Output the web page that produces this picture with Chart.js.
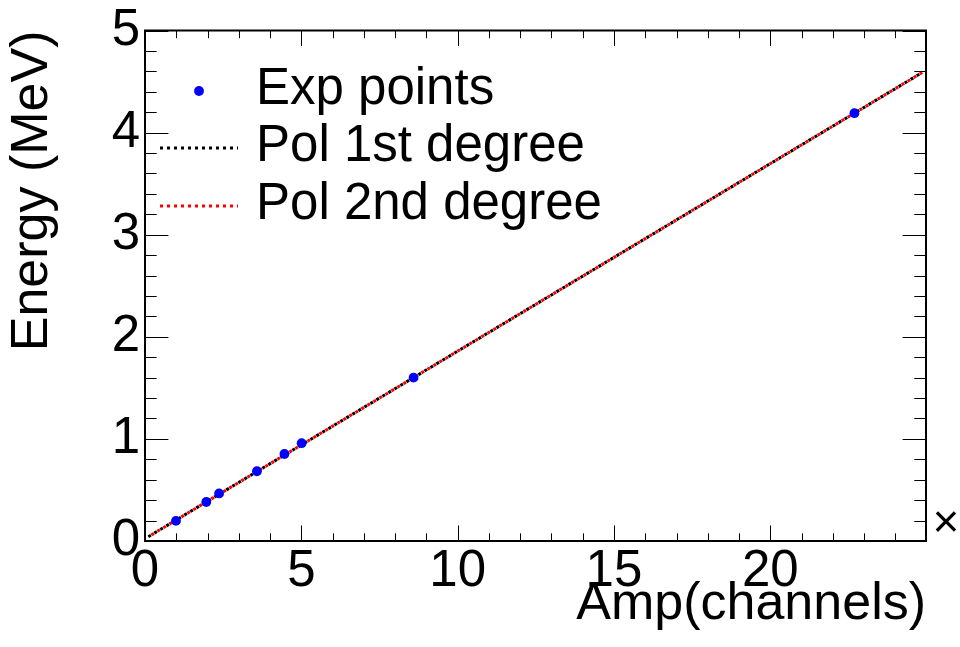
<!DOCTYPE html>
<html><head><meta charset="utf-8">
<script src="https://cdn.jsdelivr.net/npm/chart.js@4"></script>
<style>html,body{margin:0;padding:0;background:#fff;} canvas{display:block;}</style>
</head><body>
<canvas id="c" width="960" height="647" style="width:960px;height:647px"></canvas>
<script>
// ---- data ----
const expAmp     = [0.99, 1.96, 2.37, 3.58, 4.46, 5.01, 8.59, 22.69];
const expEnergy  = [0.197, 0.382, 0.466, 0.683, 0.852, 0.958, 1.60, 4.19];
const pol1Amp    = [0.106, 24.86];
const pol1Energy = [0.042, 4.589];
const pol2Amp    = [0.106, 24.86];
const pol2Energy = [0.042, 4.589];
const xTickValues = [0, 5, 10, 15, 20];
const yTickValues = [0, 1, 2, 3, 4, 5];
const seriesLabels = ['Exp points', 'Pol 1st degree', 'Pol 2nd degree'];
const xTitle = 'Amp(channels)';
const yTitle = 'Energy (MeV)';
const xMultiplier = '\u00d7';

const FONT = "'Liberation Sans', Arial, Helvetica, sans-serif";
const toXY = (xs, ys) => xs.map((x, i) => ({x: x, y: ys[i]}));

const frameTicks = {
  id: 'frameTicks',
  afterDatasetsDraw(chart) {
    const {ctx, chartArea: {left, right, top, bottom}, scales: {x, y}} = chart;
    ctx.save();
    ctx.strokeStyle = '#000';
    ctx.lineWidth = 1;
    ctx.beginPath();
    const xMajor = xTickValues[1] - xTickValues[0];
    const xMinor = xMajor / 5;
    for (let i = 0; i * xMinor <= x.max + 1e-9; i++) {
      const v = i * xMinor;
      const px = Math.round(x.getPixelForValue(v)) + 0.5;
      const len = (i % 5 === 0) ? 15.5 : 7.7;
      ctx.moveTo(px, bottom); ctx.lineTo(px, bottom - len);
      ctx.moveTo(px, top); ctx.lineTo(px, top + len);
    }
    const yMajor = yTickValues[1] - yTickValues[0];
    const yMinor = yMajor / 5;
    for (let i = 0; i * yMinor <= y.max + 1e-9; i++) {
      const v = i * yMinor;
      const py = Math.round(y.getPixelForValue(v)) + 0.5;
      const len = (i % 5 === 0) ? 23.4 : 11.7;
      ctx.moveTo(left, py); ctx.lineTo(left + len, py);
      ctx.moveTo(right, py); ctx.lineTo(right - len, py);
    }
    ctx.stroke();
    ctx.lineWidth = 2;
    ctx.strokeRect(left, top, right - left, bottom - top);
    ctx.restore();
  },
  afterDraw(chart) {
    const ctx = chart.ctx;
    const ds = chart.data.datasets;
    ctx.save();
    ctx.font = '51px ' + FONT;
    ctx.fillStyle = '#000';
    ctx.textAlign = 'left';
    ctx.textBaseline = 'alphabetic';
    const rows = [91, 148, 206];
    const textX = 256;
    // row 0: marker
    ctx.beginPath();
    ctx.fillStyle = ds[0].backgroundColor;
    ctx.arc(199, rows[0], ds[0].pointRadius, 0, Math.PI * 2);
    ctx.fill();
    // rows 1,2: lines
    for (let k = 1; k <= 2; k++) {
      ctx.beginPath();
      ctx.strokeStyle = ds[k].borderColor;
      ctx.lineWidth = ds[k].borderWidth;
      ctx.setLineDash(ds[k].borderDash);
      ctx.lineDashOffset = 0;
      ctx.moveTo(160, rows[k]);
      ctx.lineTo(238, rows[k]);
      ctx.stroke();
    }
    ctx.setLineDash([]);
    ctx.fillStyle = '#000';
    for (let k = 0; k < 3; k++) {
      ctx.fillText(ds[k].label, textX, rows[k] + 12.5);
    }
    // axis multiplier sign
    ctx.font = '46px ' + FONT;
    ctx.textAlign = 'center';
    ctx.textBaseline = 'middle';
    ctx.fillText(xMultiplier, 946, 524);
    ctx.restore();
  }
};

new Chart(document.getElementById('c').getContext('2d'), {
  type: 'scatter',
  data: {
    datasets: [
      {label: seriesLabels[0], data: toXY(expAmp, expEnergy), backgroundColor: '#0000ff',
       borderColor: '#0000ff', pointRadius: 4.9, pointBorderWidth: 0, pointHoverRadius: 4.9,
       showLine: false, order: 0},
      {label: seriesLabels[1], data: toXY(pol1Amp, pol1Energy), showLine: true,
       borderColor: '#000000', borderWidth: 3, borderDash: [3, 4], pointRadius: 0,
       fill: false, order: 2},
      {label: seriesLabels[2], data: toXY(pol2Amp, pol2Energy), showLine: true,
       borderColor: '#ff0000', borderWidth: 3, borderDash: [3, 4], borderDashOffset: 3.5,
       pointRadius: 0, fill: false, order: 1}
    ]
  },
  options: {
    responsive: false,
    devicePixelRatio: 1,
    animation: false,
    layout: {padding: {top: 26, right: 34, bottom: 0, left: 0}},
    plugins: {legend: {display: false}, tooltip: {enabled: false}},
    scales: {
      x: {
        type: 'linear', position: 'bottom', min: 0, max: 24.98,
        grid: {display: false, drawTicks: false}, border: {display: false},
        afterBuildTicks: s => { s.ticks = xTickValues.map(v => ({value: v})); },
        ticks: {color: '#000', font: {family: FONT, size: 51, lineHeight: 1}, padding: 5,
                maxRotation: 0, autoSkip: false},
        title: {display: true, text: xTitle, align: 'end', color: '#000',
                font: {family: FONT, size: 52}, padding: {top: 0, bottom: 11}},
        afterFit: s => { s.height = 106; }
      },
      y: {
        type: 'linear', position: 'left', min: 0, max: 5,
        grid: {display: false, drawTicks: false}, border: {display: false},
        afterBuildTicks: s => { s.ticks = yTickValues.map(v => ({value: v})); },
        ticks: {color: '#000', font: {family: FONT, size: 51, lineHeight: 1}, padding: 5,
                autoSkip: false},
        title: {display: true, text: yTitle, align: 'end', color: '#000',
                font: {family: FONT, size: 52}, padding: {top: 1, bottom: 0}},
        afterFit: s => { s.width = 145; }
      }
    }
  },
  plugins: [frameTicks]
});
</script>
</body></html>
